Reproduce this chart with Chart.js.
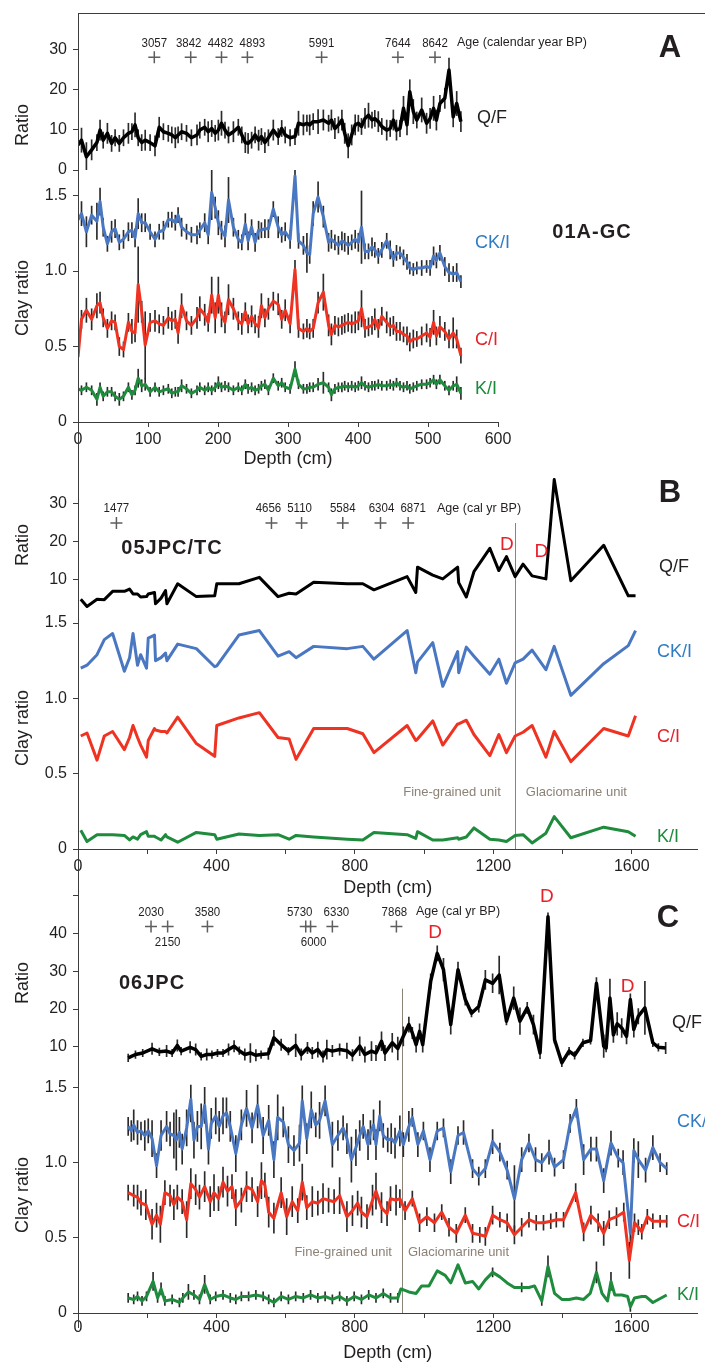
<!DOCTYPE html>
<html>
<head>
<meta charset="utf-8">
<script src="https://cdn.jsdelivr.net/npm/chart.js@4.4.1/dist/chart.umd.min.js"></script>
<style>
  html, body { margin: 0; padding: 0; background: #fff; }
  #wrap { position: relative; width: 705px; height: 1364px; overflow: hidden; background: #fff; }
  canvas { position: absolute; left: 0; }
  .rule { position: absolute; background: #3c3c3c; }
</style>
</head>
<body>
<div id="wrap">
  <canvas id="panelA" width="705" height="470" style="top:0px"></canvas>
  <canvas id="panelB" width="705" height="444" style="top:455px"></canvas>
  <canvas id="panelC" width="705" height="484" style="top:880px"></canvas>
  <div class="rule" style="left:78px;top:13px;width:1px;height:1315px"></div>
  <div class="rule" style="left:78px;top:13px;width:627px;height:1px"></div>
</div>
<script>
// ---------- panel A : 01A-GC ----------
const aDepth = [0,5,12,19.5,27,31.5,36,42,48,53,59,65,72,77,81.5,86,91,96,103,110,116,122,129,134,139,143,148,155,162,170,174,181,186,191,196,200.5,205,210,215,222,229,234,239,243,248,253,258,262,267,272,279,286,291,296,303,310,315,322,327,331,336,343,350.5,358,362,367,372,377,381,386,391,396,400.5,405,410,415,420,424,429,434,441,446,450.5,455,460,465,470,474,479,484,491,498,503,508,512,517,524,530,536,541,547];
const aQF = [6.2,7.4,3.3,5.0,6.8,9.9,7.4,9.1,6.6,8.0, 6.6,8.0,9.1,9.5,11.2,8.0,6.8,7.4,6.8,6.0, 10.6,9.5,9.1,8.7,8.0,8.7,9.5,9.1,8.0,8.7, 9.9,10.6,9.5,10.3,9.1,9.9,11.6,9.9,8.7,9.5, 10.6,8.7,6.8,6.6,7.4,8.7,7.4,8.3,6.8,8.0, 9.9,8.3,10.3,8.7,8.0,8.3,11.6,11.2,11.6,11.2, 12.0,12.0,12.4,11.6,12.4,10.3,11.2,12.4,9.1,6.0, 8.7,11.2,11.6,10.8,12.8,13.6,12.4,12.8,12.0,10.8, 9.9,10.3,12.4,9.9,10.3,15.3,11.2,19.4,14.5,12.4, 14.9,11.6,12.8,15.3,12.4,16.5,17.8,24.8,13.2,16.5,12.0];
const aCKI = [1.34,1.38,1.26,1.37,1.33,1.46,1.29,1.18,1.26,1.28, 1.19,1.21,1.26,1.27,1.22,1.38,1.32,1.32,1.26,1.21, 1.26,1.27,1.34,1.34,1.32,1.37,1.29,1.26,1.24,1.24, 1.27,1.32,1.24,1.52,1.42,1.32,1.27,1.23,1.47,1.29, 1.21,1.19,1.31,1.20,1.29,1.19,1.27,1.27,1.28,1.28, 1.41,1.29,1.24,1.26,1.21,1.63,1.20,1.17,1.12,1.11, 1.38,1.49,1.36,1.19,1.21,1.19,1.17,1.20,1.19,1.17, 1.19,1.21,1.19,1.29,1.13,1.13,1.16,1.14,1.10,1.14, 1.20,1.14,1.08,1.12,1.12,1.09,1.06,1.02,1.01,1.02, 1.02,1.03,1.02,1.10,1.07,1.12,1.03,0.99,0.98,0.99,0.93];
const aCI = [0.43,0.68,0.74,0.68,0.77,0.79,0.69,0.62,0.67,0.66, 0.50,0.48,0.66,0.60,0.59,0.91,0.73,0.51,0.66,0.67, 0.65,0.64,0.69,0.67,0.68,0.59,0.77,0.67,0.64,0.69, 0.75,0.71,0.66,0.84,0.69,0.84,0.71,0.66,0.81,0.75, 0.67,0.65,0.73,0.65,0.70,0.65,0.63,0.77,0.69,0.75, 0.80,0.78,0.68,0.74,0.65,1.01,0.62,0.60,0.62,0.60, 0.62,0.79,0.86,0.64,0.58,0.64,0.63,0.64,0.65,0.66, 0.65,0.66,0.67,0.75,0.62,0.63,0.64,0.68,0.62,0.70, 0.66,0.63,0.64,0.60,0.60,0.58,0.57,0.53,0.55,0.55, 0.57,0.59,0.56,0.66,0.57,0.63,0.60,0.55,0.59,0.55,0.44];
const aKI = [0.22,0.21,0.23,0.21,0.15,0.23,0.17,0.20,0.20,0.17, 0.15,0.17,0.23,0.18,0.21,0.29,0.24,0.25,0.20,0.23, 0.20,0.21,0.22,0.19,0.20,0.20,0.24,0.22,0.19,0.21, 0.23,0.21,0.23,0.21,0.23,0.26,0.23,0.24,0.23,0.21, 0.23,0.21,0.25,0.22,0.23,0.21,0.22,0.24,0.25,0.21, 0.29,0.24,0.26,0.23,0.22,0.35,0.25,0.22,0.22,0.23, 0.23,0.25,0.26,0.23,0.18,0.22,0.23,0.23,0.24,0.23, 0.24,0.23,0.24,0.26,0.24,0.23,0.24,0.24,0.25,0.24, 0.24,0.25,0.24,0.26,0.24,0.23,0.24,0.22,0.23,0.24, 0.25,0.25,0.26,0.28,0.25,0.28,0.24,0.21,0.24,0.25,0.19];
const aQFErr = [2.5,3,3.5,2.5,2,2.5,2,2.5,2,2, 2,2,2.5,2,3,2,2,2.5,2,2.5, 2.5,2,2,2,2.5,2,2,2,2,2.5, 2,2,2.5,2,2,2.5,3,2,2,2.5, 2,2,2.5,2.5,2,2,2.5,2,2.5,2, 2.5,2,2,2,2,2,3,2.5,2,2.5, 2,3,2.5,2,2.5,2.5,2,2.5,2.5,3, 2.5,2.5,2,2,2.5,3,2,2,2.5,2, 2.5,2,2.5,2.5,2,3,2.5,3,3,2, 3,2.5,2.5,3,2.5,2,2.5,3,2.5,3,2.5];
const aCKIErr = [.06,.08,.1,.06,.12,.09,.06,.05,.07,.06, .05,.06,.06,.05,.06,.1,.06,.06,.05,.05, .05,.06,.05,.05,.05,.05,.06,.05,.05,.06, .05,.06,.06,.18,.07,.08,.06,.07,.15,.06, .06,.05,.07,.06,.05,.06,.06,.05,.06,.06, .05,.07,.05,.06,.06,.06,.05,.06,.13,.06, .08,.1,.07,.06,.06,.05,.06,.06,.06,.06, .05,.06,.06,.24,.05,.05,.06,.05,.05,.05, .05,.06,.05,.05,.04,.05,.05,.04,.04,.04, .05,.04,.05,.06,.05,.05,.06,.06,.05,.06,.04];
const aCIErr = [.06,.06,.08,.07,.08,.07,.06,.06,.06,.05, .06,.05,.06,.08,.06,.25,.07,.22,.06,.07, .06,.06,.07,.06,.06,.07,.08,.06,.06,.07, .08,.07,.06,.12,.1,.12,.08,.07,.1,.07, .06,.07,.06,.06,.07,.06,.07,.08,.06,.07, .06,.07,.06,.07,.06,.06,.06,.05,.06,.05, .06,.07,.12,.07,.07,.06,.06,.06,.06,.06, .06,.07,.06,.12,.06,.06,.06,.07,.06,.06, .07,.06,.06,.06,.06,.05,.06,.06,.06,.05, .06,.06,.06,.08,.06,.07,.06,.06,.1,.06,.05];
const aKIErr = [.03,.03,.03,.03,.04,.03,.03,.03,.03,.03, .04,.03,.03,.03,.03,.06,.04,.04,.03,.03, .03,.03,.03,.03,.03,.03,.04,.03,.03,.03, .03,.03,.03,.03,.03,.04,.03,.03,.03,.03, .03,.03,.03,.03,.03,.03,.03,.03,.03,.03, .03,.03,.03,.03,.03,.05,.03,.03,.03,.03, .03,.04,.07,.03,.04,.03,.03,.03,.03,.03, .03,.03,.03,.04,.03,.03,.03,.03,.03,.03, .03,.03,.03,.03,.03,.03,.03,.03,.03,.03, .03,.03,.03,.03,.03,.03,.03,.03,.03,.05,.04];
const aAgeDepth = [109,161,205,242,348,457,510];
const aAgeLabel = ['3057','3842','4482','4893','5991','7644','8642'];
const aAgeShift = [0,-2,-1,5,0,0,0];

// ---------- panel B : 05JPC/TC ----------
const bDepth = [8,26,55,76,100,134,149,159,172,181,198,203,221,224,240,253,257,288,342,395,401,465,524,578,610,630,681,778,823,855,951,976,981,1025,1054,1097,1100,1122,1144,1190,1216,1238,1263,1286,1312,1352,1376,1424,1519,1590,1611];
const bQF = [4.7,2.8,4.7,4.6,6.8,6.8,7.4,6.1,6.1,5.3, 5.4,6.1,6.5,3.5,5.0,7.0,3.5,8.8,5.4,5.6, 8.8,8.8,10.5,5.4,6.3,6.1,9.2,8.8,8.8,7.2, 10.7,6.5,13.2,11.1,10.1,13.2,9.1,5.3,12.0,18.2, 12.3,16.0,10.7,14.0,10.9,10.1,36.4,9.6,19.0,5.6,5.6];
const bCKI = [1.20,1.22,1.29,1.39,1.43,1.18,1.27,1.43,1.22,1.29, 1.20,1.40,1.42,1.25,1.27,1.30,1.25,1.36,1.33,1.21, 1.215,1.42,1.45,1.28,1.31,1.27,1.345,1.33,1.345,1.26, 1.45,1.17,1.24,1.37,1.08,1.31,1.17,1.34,1.28,1.16, 1.26,1.10,1.235,1.26,1.32,1.19,1.345,1.02,1.23,1.35,1.45];
const bCI = [0.75,0.77,0.59,0.75,0.78,0.66,0.74,0.82,0.74,0.69, 0.61,0.72,0.80,0.79,0.78,0.78,0.77,0.875,0.70,0.615, 0.82,0.87,0.905,0.74,0.73,0.595,0.80,0.80,0.765,0.64, 0.82,0.72,0.73,0.85,0.69,0.83,0.83,0.855,0.76,0.62, 0.76,0.64,0.75,0.775,0.82,0.61,0.78,0.58,0.80,0.75,0.885];
const bKI = [0.125,0.05,0.095,0.095,0.095,0.09,0.06,0.08,0.065,0.095, 0.115,0.085,0.085,0.08,0.06,0.095,0.08,0.045,0.11,0.095, 0.065,0.10,0.09,0.095,0.065,0.09,0.08,0.065,0.06,0.11, 0.095,0.07,0.115,0.06,0.06,0.075,0.065,0.08,0.14,0.065, 0.06,0.05,0.09,0.095,0.04,0.105,0.215,0.075,0.145,0.115,0.085];
const bAgeDepth = [111,559,646,765,874,954];
const bAgeLabel = ['1477','4656','5110','5584','6304','6871'];
const bAgeShift = [0,-3,-2,0,1,5];
const bDMarks = [[1239, 19.2], [1339, 17.3]];

// ---------- panel C : 06JPC ----------
const cDepthQF = [145,166,187,214,235,256,272,287,298,324,340,356,372,387,403,419,435,451,466,482,498,514,529,550,566,587,608,629,645,663,677,693,708,719,735,756,777,793,814,829,848,861,877,887,908,924,940,956,966,977,987,996,1019,1038,1056,1077,1098,1119,1137,1158,1177,1198,1217,1238,1259,1277,1298,1316,1335,1358,1377,1398,1419,1435,1459,1481,1498,1519,1526,1537,1547,1558,1571,1585,1596,1606,1619,1638,1661,1677,1698];
const cQF = [7.1,8.0,8.4,9.5,8.7,8.9,8.4,10.4,8.9,9.9, 9.3,7.5,8.0,8.0,8.4,8.4,9.3,10.2,9.0,8.0, 8.4,7.8,8.0,8.2,12.4,10.6,8.9,10.4,8.0,9.7, 8.4,9.3,7.5,9.3,8.9,9.3,9.0,7.8,10.2,8.0, 8.9,8.4,11.5,8.4,11.1,9.6,12.8,15.9,13.7,10.6, 14.1,10.6,27.3,34.7,30.4,15.9,30.4,22.5,18.9,20.7, 27.7,26.8,29.0,16.8,22.9,16.8,20.3,15.9,8.4,44.4, 11.9,5.8,8.9,7.8,11.1,11.7,26.8,10.2,9.7,22.9, 13.2,16.1,15.0,12.8,22.5,14.6,18.1,20.3,11.1,9.9,9.7];
const cQFErr = [1,1,1,1.5,1,1.5,1,1.5,1,1.5, 1.5,1,1.5,1,1,1,1.5,1.5,1,1.5, 2.5,1.5,1,1.5,2,1.5,1,3,1.5,1.5, 1.5,2,1.5,2.5,1.5,1.5,2,1.5,2.5,2, 2.5,2,2.5,2,2.5,3,2.5,2,1.5,2, 2,2,2,2,3,2.5,2,1.5,1,1.5, 2.5,2.5,5,1,3,3.5,1.5,2.5,1.5,1, 1,1,1,1,1,1,1.5,3,1,5, 2,3,2.5,2,1.5,2,2,7,1,1,1.5];
const cDepthCKI = [145,154,161,172,182,193,203,214,227,240,256,266,277,284,293,301,314,326,335,345,356,366,377,385,398,408,419,429,440,456,472,487,503,519,535,551,566,577,593,608,624,640,648,661,674,687,698,714,735,751,766,777,790,803,814,824,838,845,854,861,872,882,895,905,916,930,940,956,966,982,998,1017,1038,1056,1077,1098,1114,1140,1158,1177,1198,1219,1240,1261,1282,1303,1322,1340,1361,1377,1403,1422,1440,1461,1482,1498,1519,1540,1561,1575,1596,1606,1619,1640,1661,1682,1701];
const cCKI = [1.24,1.21,1.25,1.20,1.21,1.18,1.21,1.16,0.98,1.18, 1.24,1.19,1.18,1.15,1.20,1.09,1.23,1.42,1.15,1.24, 1.24,1.38,1.09,1.26,1.31,1.24,1.31,1.33,1.24,1.06, 1.25,1.36,1.23,1.38,1.18,1.28,1.02,1.30,1.27,1.12, 1.08,1.13,1.41,1.16,1.35,1.25,1.28,1.41,1.12,1.18, 1.23,1.16,1.02,1.10,1.18,1.24,1.12,1.20,1.25,1.12, 1.31,1.18,1.15,1.16,1.13,1.21,1.12,1.24,1.30,1.12, 1.21,1.02,1.21,1.23,0.94,1.18,1.20,0.96,0.91,0.96, 1.14,1.07,0.95,0.76,1.02,1.13,1.02,1.00,1.07,0.97, 1.02,1.26,1.36,1.02,1.09,1.09,0.88,1.13,1.03,1.00, 0.53,1.08,1.02,0.95,1.10,1.00,0.96];
const cCKIErr = [.06,.07,.1,.08,.06,.1,.08,.12,.08,.1, .1,.08,.15,.2,.1,.1,.12,.15,.12,.1, .15,.12,.1,.1,.12,.1,.12,.1,.1,.12, .1,.12,.1,.15,.12,.1,.12,.15,.1,.12, .1,.12,.1,.1,.12,.08,.12,.1,.15,.1, .08,.1,.15,.12,.1,.08,.1,.08,.1,.1, .1,.08,.08,.1,.1,.1,.08,.1,.06,.08, .06,.08,.06,.06,.08,.06,.08,.06,.06,.06, .08,.06,.06,.22,.08,.06,.08,.06,.08,.06, .06,.06,.06,.1,.08,.08,.08,.08,.06,.08, .1,.08,.12,.08,.08,.06,.04];
const cDepthCI = [145,161,172,182,196,214,227,238,251,266,277,287,301,314,326,340,351,366,382,393,406,419,432,445,456,472,487,503,519,530,540,551,566,587,603,619,635,648,661,677,693,708,724,740,756,777,793,808,819,835,851,861,877,893,903,919,930,945,966,987,1008,1030,1051,1072,1093,1119,1140,1161,1177,1198,1219,1240,1261,1282,1303,1324,1345,1366,1382,1403,1438,1461,1482,1503,1519,1535,1556,1577,1593,1608,1619,1629,1645,1661,1682,1701];
const cCI = [0.80,0.78,0.77,0.73,0.72,0.59,0.65,0.59,0.80,0.78, 0.72,0.77,0.74,0.62,0.86,0.82,0.77,0.84,0.74,0.80, 0.76,0.87,0.81,0.84,0.70,0.75,0.84,0.82,0.74,0.88, 0.85,0.67,0.63,0.80,0.64,0.74,0.68,0.87,0.70,0.74, 0.73,0.76,0.75,0.74,0.78,0.64,0.68,0.73,0.67,0.64, 0.75,0.81,0.70,0.66,0.76,0.75,0.76,0.68,0.76,0.60, 0.64,0.60,0.67,0.57,0.53,0.65,0.53,0.52,0.51,0.65, 0.62,0.60,0.52,0.57,0.62,0.60,0.60,0.61,0.62,0.62, 0.80,0.54,0.65,0.60,0.53,0.62,0.64,0.67,0.35,0.60, 0.57,0.54,0.64,0.61,0.61,0.61];
const cCIErr = [.05,.07,.08,.08,.1,.1,.08,.12,.08,.07, .1,.08,.08,.12,.1,.1,.08,.1,.1,.12, .08,.1,.1,.08,.12,.08,.1,.08,.1,.12, .08,.1,.1,.1,.12,.1,.08,.12,.08,.1, .08,.1,.08,.08,.12,.1,.1,.08,.1,.08, .1,.12,.1,.08,.08,.1,.06,.06,.05,.06, .06,.06,.05,.06,.06,.05,.06,.05,.06,.06, .05,.06,.06,.06,.05,.05,.05,.05,.05,.05, .06,.06,.06,.06,.08,.06,.06,.06,.12,.06, .05,.05,.05,.05,.04,.04];
const cDepthKI = [145,161,172,185,198,217,230,240,251,272,293,303,319,335,351,366,382,398,419,440,456,472,493,514,535,551,566,587,608,629,651,672,693,714,735,756,777,798,819,840,861,882,903,924,933,956,977,993,1014,1038,1061,1077,1098,1119,1140,1158,1177,1198,1219,1240,1261,1282,1303,1319,1340,1358,1377,1398,1419,1440,1461,1480,1498,1514,1530,1540,1551,1572,1588,1596,1608,1629,1640,1661,1701];
const cKI = [0.10,0.09,0.11,0.08,0.11,0.21,0.10,0.16,0.08,0.09, 0.07,0.10,0.14,0.12,0.09,0.19,0.09,0.11,0.12,0.10, 0.09,0.11,0.11,0.12,0.11,0.09,0.07,0.11,0.09,0.11, 0.10,0.12,0.10,0.11,0.09,0.11,0.08,0.11,0.09,0.12, 0.10,0.13,0.10,0.10,0.16,0.14,0.13,0.18,0.18,0.28, 0.25,0.20,0.32,0.20,0.21,0.16,0.22,0.27,0.24,0.20, 0.17,0.17,0.17,0.18,0.08,0.31,0.13,0.09,0.09,0.10, 0.09,0.13,0.27,0.13,0.08,0.21,0.12,0.12,0.11,0.04, 0.10,0.11,0.11,0.07,0.12];
const cKIErr = [.03,.03,.03,.03,.03,.06,.03,.04,.03,.03, .03,.03,.05,.03,.03,.06,.03,.03,.03,.03, .03,.03,.03,.03,.03,.03,.03,.03,.03,.03, .03,.03,.03,.03,.03,.03,.03,.03,.03,.03, .03,.03,.03,.03,0,0,0,0,0,0, 0,0,0,0,0,0,0,.03,0,0, 0,.03,0,0,.03,.07,0,0,0,0, 0,0,.07,0,0,.06,0,0,0,.03, 0,0,0,0,0];
const cAgeDepth = [211,259,374,658,672,735,920];
const cAgeLabel = ['2030','2150','3580','5730','6000','6330','7868'];
const cAgeShift = [0,0,0,-6,3,4,-2];
const cAgeBelow = ['2150','6000'];
const cDMarks = [[1032, 40.2], [1355, 49.7], [1588, 26.0]];

// tick values
const clayTicks = [0, 0.5, 1, 1.5];
const depthTicksA = [0, 100, 200, 300, 400, 500, 600];
const depthTicksBC = [0, 200, 400, 600, 800, 1000, 1200, 1400, 1600];

const BLUE = '#4a77c2', RED = '#ee3323', GREEN = '#1f8b3d';
const BLUE_T = '#2f7cc4', RED_T = '#e8202a', GREEN_T = '#1b8a3c';
const INK = '#231f20', AXIS = '#3c3c3c', UNIT = '#8c8276';
const FONT = "'Liberation Sans', Arial, Helvetica, sans-serif";
Chart.defaults.font.family = FONT;
Chart.defaults.color = INK;

function pts(xs, ys) { return xs.map((x, i) => ({x: x, y: ys[i]})); }

function lineDs(xs, ys, color, width, axis) {
  return { type: 'line', data: pts(xs, ys), yAxisID: axis, borderColor: color, borderWidth: width,
    pointRadius: 0, tension: 0, fill: false, borderJoinStyle: 'round', order: 2 };
}

function errDs(xs, ys, errs, axis) {
  const data = [];
  xs.forEach((x, i) => {
    const e = errs[i] || 0;
    if (e > 0) data.push({x: x, y: [ys[i] - e, ys[i] + e]});
  });
  return { type: 'bar', data: data, yAxisID: axis, backgroundColor: '#2a2a2a', borderWidth: 0,
    barThickness: 1, grouped: false, order: 10 };
}

function ageDs(depths, yVal) {
  return { type: 'line', data: depths.map(d => ({x: d, y: yVal})), yAxisID: 'yr', showLine: false,
    pointStyle: 'cross', pointRadius: 6, borderColor: '#5e5e5e', borderWidth: 1.5, order: 0 };
}

const decor = {
  id: 'decor',
  beforeDatasetsDraw(chart, args, o) {
    if (!o.unit) return;
    const ctx = chart.ctx, x = chart.scales.x, yr = chart.scales.yr, yc = chart.scales.yc;
    const px = Math.round(x.getPixelForValue(o.unit.depth)) + 0.5;
    ctx.save();
    ctx.strokeStyle = UNIT;
    ctx.lineWidth = 1;
    ctx.beginPath();
    ctx.moveTo(px, yr.getPixelForValue(o.unit.top));
    ctx.lineTo(px, yc.getPixelForValue(0));
    ctx.stroke();
    ctx.restore();
  },
  afterDraw(chart, args, o) {
    const ctx = chart.ctx, x = chart.scales.x, yr = chart.scales.yr, yc = chart.scales.yc;
    ctx.save();
    ctx.textBaseline = 'middle';

    if (o.unit) {
      const px = x.getPixelForValue(o.unit.depth);
      const ty = yc.getPixelForValue(o.unit.textAt);
      ctx.font = '13px ' + FONT;
      ctx.fillStyle = UNIT;
      ctx.textAlign = 'right';
      ctx.fillText('Fine-grained unit', px - o.unit.gapL, ty);
      ctx.textAlign = 'left';
      ctx.fillText('Glaciomarine unit', px + o.unit.gapR, ty);
    }

    // age control points, slightly condensed like the original labels
    ctx.font = '12.5px ' + FONT;
    ctx.fillStyle = INK;
    ctx.textAlign = 'center';
    o.ageDepth.forEach((d, i) => {
      const below = (o.ageBelow || []).includes(o.ageLabel[i]);
      const lx = x.getPixelForValue(d) + (o.ageShift[i] || 0);
      const ly = yr.getPixelForValue(o.ageY) + (below ? 16 : -14);
      ctx.save();
      ctx.translate(lx, ly);
      ctx.scale(0.92, 1);
      ctx.fillText(o.ageLabel[i], 0, 0);
      ctx.restore();
    });

    // D marks
    ctx.font = '19px ' + FONT;
    ctx.fillStyle = '#e8202a';
    (o.dMarks || []).forEach(m => {
      ctx.fillText('D', x.getPixelForValue(m[0]), yr.getPixelForValue(m[1]));
    });

    o.texts.forEach(t => {
      ctx.font = t.font + ' ' + FONT;
      ctx.fillStyle = t.color || INK;
      ctx.textAlign = t.align || 'left';
      ctx.letterSpacing = t.ls || '0px';
      ctx.fillText(t.t, t.x, t.y);
    });
    ctx.letterSpacing = '0px';

    ctx.font = '18px ' + FONT;
    ctx.fillStyle = INK;
    ctx.textAlign = 'center';
    o.yTitles.forEach(t => {
      ctx.save();
      ctx.translate(t.x, t.y);
      ctx.rotate(-Math.PI / 2);
      ctx.fillText(t.t, 0, 0);
      ctx.restore();
    });
    ctx.restore();
  }
};

function makePanel(id, p) {
  new Chart(document.getElementById(id), {
    type: 'line',
    data: { datasets: p.datasets },
    options: {
      responsive: false,
      animation: false,
      events: [],
      layout: { padding: { top: p.padTop, right: p.padRight, left: 0, bottom: 0 } },
      plugins: { legend: { display: false }, tooltip: { enabled: false }, decor: p.decor },
      scales: {
        x: {
          type: 'linear', min: 0, max: p.xMax, offset: false,
          afterBuildTicks: s => { s.ticks = p.xTicks.map(v => ({value: v})); },
          afterFit: s => { s.height = p.xHeight; s.paddingLeft = 0; s.paddingRight = 0; },
          ticks: { autoSkip: false, maxRotation: 0, padding: p.xTickPad, font: { size: 16 }, color: INK,
            callback: v => (p.xLabelStep && v % p.xLabelStep) ? '' : String(v) },
          grid: { drawOnChartArea: false, tickLength: 5, color: AXIS, offset: false },
          border: { color: AXIS },
          title: { display: true, text: 'Depth (cm)', font: { size: 18 }, color: INK, padding: 0 }
        },
        yc: {
          type: 'linear', position: 'left', stack: 'left', stackWeight: p.clayW, min: 0, max: p.clayMax,
          afterBuildTicks: s => { s.ticks = clayTicks.map(v => ({value: v})); },
          afterFit: s => { s.width = 78; s.paddingTop = 0; s.paddingBottom = 0; },
          ticks: { padding: 6, font: { size: 16 }, color: INK, callback: v => v === 0 ? '0' : v.toFixed(1) },
          grid: { drawOnChartArea: false, tickLength: 5, color: AXIS },
          border: { color: AXIS }
        },
        yr: {
          type: 'linear', position: 'left', stack: 'left', stackWeight: p.ratioW, min: 0, max: p.ratioMax,
          afterBuildTicks: s => { s.ticks = p.ratioTicks.map(v => ({value: v})); },
          afterFit: s => { s.width = 78; s.paddingTop = 0; s.paddingBottom = 0; },
          ticks: { padding: 6, font: { size: 16 }, color: INK, callback: v => v >= p.ratioHide ? '' : String(v) },
          grid: { drawOnChartArea: false, tickLength: 5, color: AXIS },
          border: { color: AXIS }
        }
      }
    },
    plugins: [decor]
  });
}

makePanel('panelA', {
  padTop: 13, padRight: 207, xMax: 600, xTicks: depthTicksA, xLabelStep: 0, xHeight: 48, xTickPad: 3,
  clayW: 252, clayMax: 1.669, ratioW: 157, ratioMax: 38.96, ratioTicks: [0, 10, 20, 30], ratioHide: 99,
  datasets: [
    ageDs(aAgeDepth, 28),
    lineDs(aDepth, aQF, '#000', 3.5, 'yr'),
    lineDs(aDepth, aCKI, BLUE, 3, 'yc'),
    lineDs(aDepth, aCI, RED, 3, 'yc'),
    lineDs(aDepth, aKI, GREEN, 3, 'yc'),
    errDs(aDepth, aQF, aQFErr, 'yr'),
    errDs(aDepth, aCKI, aCKIErr, 'yc'),
    errDs(aDepth, aCI, aCIErr, 'yc'),
    errDs(aDepth, aKI, aKIErr, 'yc')
  ],
  decor: {
    ageDepth: aAgeDepth, ageLabel: aAgeLabel, ageShift: aAgeShift, ageY: 28,
    texts: [
      { t: 'A', x: 670, y: 48, font: 'bold 31px', align: 'center' },
      { t: '01A-GC', x: 592, y: 232, font: 'bold 20px', align: 'center', ls: '1px' },
      { t: 'Age (calendar year BP)', x: 457, y: 43, font: '12.5px' },
      { t: 'Q/F', x: 477, y: 118, font: '18px' },
      { t: 'CK/I', x: 475, y: 243, font: '18px', color: BLUE_T },
      { t: 'C/I', x: 475, y: 340, font: '18px', color: RED_T },
      { t: 'K/I', x: 475, y: 389, font: '18px', color: GREEN_T }
    ],
    yTitles: [{ t: 'Ratio', x: 23, y: 125 }, { t: 'Clay ratio', x: 23, y: 298 }]
  }
});

makePanel('panelB', {
  padTop: 11, padRight: 2, xMax: 1790, xTicks: depthTicksBC, xLabelStep: 400, xHeight: 50, xTickPad: 3,
  clayW: 232, clayMax: 1.54, ratioW: 151, ratioMax: 40, ratioTicks: [10, 20, 30], ratioHide: 99,
  datasets: [
    ageDs(bAgeDepth, 24.9),
    lineDs(bDepth, bQF, '#000', 3, 'yr'),
    lineDs(bDepth, bCKI, BLUE, 3, 'yc'),
    lineDs(bDepth, bCI, RED, 3, 'yc'),
    lineDs(bDepth, bKI, GREEN, 3, 'yc')
  ],
  decor: {
    ageDepth: bAgeDepth, ageLabel: bAgeLabel, ageShift: bAgeShift, ageY: 24.9, dMarks: bDMarks,
    unit: { depth: 1262, top: 24.9, textAt: 0.378, gapL: 14, gapR: 11 },
    texts: [
      { t: 'B', x: 670, y: 38, font: 'bold 31px', align: 'center' },
      { t: '05JPC/TC', x: 172, y: 93, font: 'bold 20px', align: 'center', ls: '1px' },
      { t: 'Age (cal yr BP)', x: 437, y: 54, font: '12.5px' },
      { t: 'Q/F', x: 659, y: 112, font: '18px' },
      { t: 'CK/I', x: 657, y: 197, font: '18px', color: BLUE_T },
      { t: 'C/I', x: 657, y: 282, font: '18px', color: RED_T },
      { t: 'K/I', x: 657, y: 382, font: '18px', color: GREEN_T }
    ],
    yTitles: [{ t: 'Ratio', x: 23, y: 90 }, { t: 'Clay ratio', x: 23, y: 273 }]
  }
});

makePanel('panelC', {
  padTop: 6, padRight: 2, xMax: 1790, xTicks: depthTicksBC, xLabelStep: 400, xHeight: 51, xTickPad: 0,
  clayW: 229, clayMax: 1.517, ratioW: 198, ratioMax: 52.1, ratioTicks: [10, 20, 30, 40, 50], ratioHide: 50,
  datasets: [
    ageDs(cAgeDepth, 41.8),
    lineDs(cDepthQF, cQF, '#000', 3.5, 'yr'),
    lineDs(cDepthCKI, cCKI, BLUE, 3, 'yc'),
    lineDs(cDepthCI, cCI, RED, 3, 'yc'),
    lineDs(cDepthKI, cKI, GREEN, 3, 'yc'),
    errDs(cDepthQF, cQF, cQFErr, 'yr'),
    errDs(cDepthCKI, cCKI, cCKIErr, 'yc'),
    errDs(cDepthCI, cCI, cCIErr, 'yc'),
    errDs(cDepthKI, cKI, cKIErr, 'yc')
  ],
  decor: {
    ageDepth: cAgeDepth, ageLabel: cAgeLabel, ageShift: cAgeShift, ageBelow: cAgeBelow, ageY: 41.8, dMarks: cDMarks,
    unit: { depth: 936, top: 25.4, textAt: 0.40, gapL: 10, gapR: 6 },
    texts: [
      { t: 'C', x: 668, y: 38, font: 'bold 31px', align: 'center' },
      { t: '06JPC', x: 152, y: 103, font: 'bold 20px', align: 'center', ls: '1px' },
      { t: 'Age (cal yr BP)', x: 416, y: 32, font: '12.5px' },
      { t: 'Q/F', x: 672, y: 143, font: '18px' },
      { t: 'CK/I', x: 677, y: 242, font: '18px', color: BLUE_T },
      { t: 'C/I', x: 677, y: 342, font: '18px', color: RED_T },
      { t: 'K/I', x: 677, y: 415, font: '18px', color: GREEN_T }
    ],
    yTitles: [{ t: 'Ratio', x: 23, y: 103 }, { t: 'Clay ratio', x: 23, y: 315 }]
  }
});
</script>
</body>
</html>
